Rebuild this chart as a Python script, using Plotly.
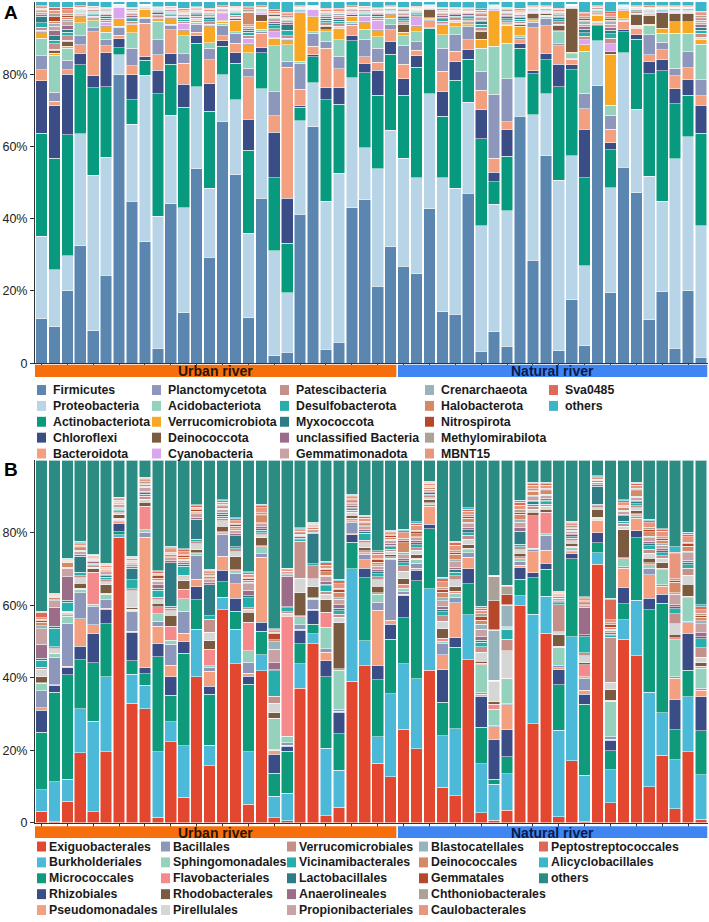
import plotly.graph_objects as go

W, H = 709, 922
FONT = "Liberation Sans, Arial, sans-serif"

urban_n, natural_n = 28, 24
samples = [f"U{i}" for i in range(1, urban_n + 1)] + [f"N{i}" for i in range(1, natural_n + 1)]

# ---------------- Panel A (phylum) ----------------
phyla = ["Firmicutes", "Proteobacteria", "Actinobacteriota", "Chloroflexi", "Bacteroidota",
         "Planctomycetota", "Acidobacteriota", "Verrucomicrobiota", "Deinococcota", "Cyanobacteria",
         "Patescibacteria", "Desulfobacterota", "Myxococcota", "unclassified Bacteria", "Gemmatimonadota",
         "Crenarchaeota", "Halobacterota", "Nitrospirota", "Methylomirabilota", "MBNT15",
         "Sva0485", "others"]
phyla_colors = ["#5b86b0", "#b8d5e8", "#079a7f", "#3a4d87", "#f3a081",
                "#8d97bb", "#94d2bd", "#f9a825", "#7b5b3f", "#dba6f0",
                "#c4908a", "#27aeaa", "#2e7c86", "#9c6d88", "#c9a2a6",
                "#97b3bb", "#d58a66", "#b5472a", "#aba197", "#e9967f",
                "#de6a55", "#3bb5c8"]

firmicutes = [12.4,10.1,20.0,32.5,9.0,24.3,80.4,44.9,34.1,4.1, 44.2,14.0,53.8,29.3,66.9,52.2,12.6,45.6,2.1,3.0,
              41.2,65.4,3.9,5.8,43.0,45.3,21.3,32.3,26.8,24.7, 42.8,14.3,13.5,47.0,3.3,8.7,4.7,68.3,28.8,57.5,
              3.5,17.7,4.9,78.5,19.5,54.3,47.2,12.0,19.8,4.2, 20.1,1.6]
proteobacteria = [22.9,15.8,9.7,31.0,43.0,32.7,5.5,21.3,46.7,36.6, 24.4,29.0,22.7,19.2,13.0,20.8,23.4,30.4,29.1,16.5,
                  25.9,12.2,41.0,46.8,36.0,14.3,32.5,32.2,30.0,26.6, 31.8,37.1,35.0,25.3,34.7,35.3,37.5,10.7,40.8,17.1,
                  47.1,40.2,22.1,12.8,29.1,31.6,23.1,39.7,25.1,52.4, 42.6,36.4]
actinobacteriota = [28.5,30.9,33.3,19.1,24.2,19.5,2.0,6.7,4.3,33.9, 14.2,27.8,12.1,21.3,7.8,10.1,22.9,10.0,20.1,13.7,
                    3.7,7.2,28.1,19.1,10.3,20.8,20.4,21.1,17.4,30.6, 18.1,16.9,29.9,11.9,24.2,6.3,15.1,8.2,11.4,9.4,
                    25.9,24.1,24.3,4.2,10.5,5.9,19.4,28.4,36.1,15.3, 11.5,25.6]
chloroflexi = [14.6,14.6,16.8,3.2,3.4,9.4,2.5,7.0,0.9,6.5, 2.9,6.4,2.0,7.6,1.6,2.9,8.7,1.4,12.6,12.4,
               0.6,0.6,3.2,4.5,1.3,2.7,6.9,3.5,4.5,3.2, 0.3,6.8,5.0,2.7,7.9,2.6,7.5,1.4,0.9,1.7,
               6.3,1.3,13.5,0.3,1.9,0.6,1.2,3.5,3.0,4.1, 4.3,7.8]
bacteroidota = [3.1,1.2,1.2,2.3,12.2,2.0,1.0,2.5,9.5,4.3, 6.6,5.9,1.0,6.6,1.3,2.6,11.7,4.0,4.6,36.3,
                4.4,2.3,11.0,5.3,3.0,1.8,2.2,3.2,4.0,1.6, 1.8,5.7,2.9,2.6,5.5,3.9,2.1,1.0,12.0,7.7,
                5.1,1.6,5.7,0.3,3.8,2.3,1.8,1.8,2.8,3.6, 3.4,2.7]
planctomycetota = [3.9,2.5,2.6,2.5,1.1,1.6,2.2,4.8,1.3,4.1, 1.1,2.6,2.3,3.2,3.0,2.7,2.4,0.5,6.6,1.7,
                   7.3,3.6,1.9,3.5,0.5,4.8,3.9,1.4,5.3,2.3, 0.3,6.4,4.6,3.7,5.2,17.6,11.9,0.5,1.5,2.1,
                   0.5,0.3,4.2,0.3,3.8,0.3,0.3,5.5,2.0,2.1, 4.4,4.4]
acidobacteriota = [4.8,10.3,3.4,3.7,1.9,2.1,0.3,4.3,0.3,5.1, 0.5,4.9,0.5,1.5,0.5,0.5,4.2,0.5,12.8,4.5,
                   0.5,0.5,2.7,4.5,0.5,2.7,3.2,1.8,2.6,2.7, 0.3,3.7,2.3,0.5,6.4,13.3,9.8,0.5,0.5,0.5,
                   3.4,1.3,11.6,0.3,2.8,0.3,0.3,2.7,2.6,9.7, 5.1,9.8]
verrucomicrobiota = [1.5,0.5,0.5,1.6,0.6,1.6,1.8,1.9,2.2,0.5, 1.5,1.4,0.5,4.5,0.5,3.2,2.2,2.3,2.1,1.2,
                     13.1,3.9,0.5,3.2,1.5,1.8,1.7,1.0,1.0,1.4, 0.3,2.5,1.2,0.5,2.5,9.6,5.0,2.7,0.5,0.3,
                     0.3,0.3,1.6,1.8,14.2,2.0,0.3,0.3,1.3,3.2, 3.2,1.4]
deinococcota = [0.5,0.8,1.4,0.3,0.3,0.4,0.3,0.3,0.3,0.3, 0.3,0.3,0.3,0.3,0.3,0.3,0.3,1.8,0.3,0.3,
                0.3,0.3,1.0,0.3,0.3,0.3,0.3,0.3,2.3,0.3, 2.3,0.3,0.3,0.3,2.1,0.3,0.3,0.5,1.5,0.5,
                1.4,12.3,0.3,0.3,0.7,0.3,3.0,2.3,4.3,2.3, 2.3,0.3]
cyanobacteria = [0.3,0.3,0.3,0.3,0.3,0.8,3.2,0.3,0.3,0.3, 0.3,1.8,0.3,0.3,1.8,0.5,1.6,0.3,1.4,0.3,
                 0.3,1.8,0.3,0.3,0.3,1.5,2.5,0.3,0.3,2.5, 0.3,0.3,0.3,0.3,0.3,0.3,0.3,0.3,0.3,0.3,
                 0.3,0.3,1.3,0.3,2.2,0.3,0.3,0.3,0.3,0.3, 0.3,0.3]
patescibacteria = [0.8,1.5,1.2,0.4,0.5,0.6,0.1,0.7,0.1,0.5, 0.5,0.6,0.5,0.7,0.4,0.5,0.8,0.4,0.9,0.8,
                   0.3,0.2,0.7,0.7,0.4,0.5,0.6,0.3,0.6,0.5, 0.2,0.7,0.6,0.6,0.9,0.2,0.6,0.6,0.3,0.3,
                   0.7,0.1,1.0,0.4,1.5,0.2,0.4,0.4,0.3,0.3, 0.3,1.0]
desulfobacterota = [1.2,1.0,1.0,0.3,0.4,0.5,0.1,0.6,0.1,0.4, 0.4,0.5,0.4,0.6,0.3,0.4,0.8,0.3,0.8,1.5,
                    0.2,0.2,0.6,0.6,0.3,0.4,0.5,0.3,0.6,0.4, 0.1,0.6,0.5,0.5,0.8,0.2,0.6,0.5,0.3,0.3,
                    0.6,0.1,1.0,0.3,1.2,0.2,0.3,0.3,0.2,0.3, 0.3,0.9]
myxococcota = [1.8,1.2,0.8,0.3,0.3,0.5,0.1,0.5,0.1,0.4, 0.3,0.5,0.4,0.5,0.2,0.4,0.6,0.2,0.7,1.5,
               0.2,0.1,0.6,0.6,0.2,0.3,0.4,0.2,0.5,0.3, 0.1,0.5,0.4,0.4,0.7,0.1,0.5,0.5,0.2,0.2,
               0.5,0.1,0.9,0.2,1.0,0.1,0.2,0.3,0.2,0.2, 0.2,0.8]
unclassified_bacteria = [0.5,1.5,1.0,0.2,0.3,0.4,0.1,0.4,0.1,0.3, 0.3,0.4,0.3,0.4,0.2,0.3,0.5,0.2,0.6,0.5,
                         0.1,0.1,0.5,0.5,0.2,0.3,0.3,0.2,0.4,0.3, 0.1,0.4,0.3,0.4,0.5,0.1,0.4,0.4,0.2,0.2,
                         0.4,0.1,0.7,0.2,0.8,0.1,0.2,0.2,0.1,0.2, 0.2,0.7]
gemmatimonadota = [0.6,1.2,1.0,0.3,0.3,0.5,0.1,0.5,0.1,0.3, 0.3,0.5,0.4,0.5,0.3,0.3,0.6,0.3,0.6,0.6,
                   0.2,0.2,0.5,0.6,0.3,0.3,0.4,0.2,0.5,0.3, 0.1,0.5,0.4,0.4,0.6,0.2,0.5,0.5,0.2,0.2,
                   0.5,0.1,0.8,0.3,0.9,0.2,0.3,0.3,0.2,0.2, 0.2,0.7]
crenarchaeota = [0.4,0.8,0.8,0.2,0.2,0.3,0.1,0.3,0.1,0.2, 0.2,0.3,0.2,0.3,0.2,0.2,0.4,0.1,0.5,0.4,
                 0.1,0.1,0.3,0.4,0.2,0.2,0.3,0.1,0.3,0.2, 0.1,0.3,0.3,0.3,0.5,0.1,0.3,0.3,0.1,0.1,
                 0.3,0.1,0.6,0.1,0.6,0.1,0.1,0.2,0.1,0.1, 0.1,0.6]
halobacterota = [0.3,0.6,0.5,0.1,0.1,0.2,0.0,0.2,0.0,0.1, 0.1,0.2,0.1,0.2,0.1,0.1,3.5,0.1,0.3,0.3,
                 0.1,0.1,0.2,0.2,0.1,0.1,0.1,0.1,0.2,0.1, 0.0,0.2,0.1,0.1,0.3,0.1,0.2,0.2,0.1,0.1,
                 0.2,0.0,0.4,0.1,0.4,0.1,0.1,0.1,0.1,0.1, 0.1,0.4]
nitrospirota = [0.2,1.2,0.5,0.1,0.1,0.2,0.0,0.2,0.0,0.1, 0.1,0.2,0.1,0.2,0.1,0.1,0.3,0.1,0.3,0.3,
                0.1,0.0,0.2,0.2,0.1,0.1,0.1,0.1,0.2,0.1, 0.0,0.2,0.1,0.1,0.3,0.0,0.2,0.2,0.1,0.1,
                0.2,0.0,0.4,0.1,0.4,0.0,0.1,0.1,0.1,0.1, 0.1,0.4]
methylomirabilota = [0.3,0.8,0.6,0.2,0.2,0.3,0.1,0.3,0.1,0.2, 0.2,0.3,0.2,0.3,0.1,0.2,0.4,0.1,0.5,0.4,
                     0.1,0.1,0.3,0.3,0.1,0.2,0.2,0.1,0.3,0.2, 0.1,0.3,0.2,0.2,0.4,0.1,0.3,0.3,0.1,0.1,
                     0.3,0.1,0.6,0.1,0.6,0.1,0.1,0.2,0.1,0.1, 0.1,0.5]
mbnt15 = [0.4,1.0,1.0,0.3,0.3,0.4,0.1,0.5,0.1,0.3, 0.3,0.5,0.4,0.5,0.3,0.3,0.5,0.3,0.6,0.6,
          0.2,0.1,0.5,0.5,0.3,0.3,0.4,0.2,0.5,0.3, 0.1,0.5,0.4,0.4,0.6,0.1,0.5,0.5,0.2,0.2,
          0.5,0.1,0.8,0.2,0.9,0.1,0.2,0.3,0.2,0.2, 0.2,0.7]
sva0485 = [0.3,0.8,0.6,0.1,0.1,0.2,0.0,0.3,0.0,0.2, 0.1,0.2,0.2,0.3,0.1,0.2,0.3,0.1,0.4,0.4,
           0.1,0.1,0.3,0.3,0.1,0.1,0.2,0.1,0.2,0.2, 0.0,0.3,0.2,0.2,0.4,0.1,0.2,0.2,0.1,0.1,
           0.3,0.0,0.5,0.1,0.5,0.1,0.1,0.1,0.1,0.1, 0.1,0.5]
others_a = [1.0,1.5,1.5,1.0,1.2,1.5,0.6,1.5,0.7,1.3, 1.2,1.7,1.3,1.7,1.0,1.2,1.3,1.0,2.1,2.8,
            1.0,0.9,1.7,1.8,1.0,1.2,1.6,1.0,1.5,1.2, 0.8,1.5,1.5,1.6,1.9,0.8,1.5,1.7,1.0,1.0,
            1.7,0.7,2.8,1.0,2.7,0.8,1.0,1.0,1.0,1.0, 1.0,2.5]

phyla_values = [firmicutes, proteobacteria, actinobacteriota, chloroflexi, bacteroidota,
                planctomycetota, acidobacteriota, verrucomicrobiota, deinococcota, cyanobacteria,
                patescibacteria, desulfobacterota, myxococcota, unclassified_bacteria, gemmatimonadota,
                crenarchaeota, halobacterota, nitrospirota, methylomirabilota, mbnt15,
                sva0485, others_a]

# ---------------- Panel B (order) ----------------
orders = ["Exiguobacterales", "Burkholderiales", "Micrococcales", "Rhizobiales", "Pseudomonadales",
          "Bacillales", "Sphingomonadales", "Flavobacteriales", "Rhodobacterales", "Pirellulales",
          "Verrucomicrobiales", "Vicinamibacterales", "Lactobacillales", "Anaerolineales", "Propionibacteriales",
          "Blastocatellales", "Deinococcales", "Gemmatales", "Chthoniobacterales", "Caulobacterales",
          "Peptostreptococcales", "Alicyclobacillales", "others"]
order_colors = ["#e4472f", "#4cb9d8", "#0f9a7c", "#3a4d87", "#f3a081",
                "#8d97bb", "#94d2bd", "#f48a8c", "#7b5b3f", "#d6d6d6",
                "#c4908a", "#27aeaa", "#2e7c86", "#9c6d88", "#c9a2a6",
                "#97b3bb", "#d58a66", "#b5472a", "#aba197", "#e9967f",
                "#de6a55", "#3bb5c8", "#2b8c84"]

exiguobacterales = [3.2,0.3,5.9,19.5,3.0,19.7,79.5,32.9,31.3,1.5, 22.2,7.1,40.7,15.7,59.6,43.7,5.1,42.0,1.4,0.5,
                    37.7,50.0,1.9,4.2,39.1,43.7,16.3,12.8,25.7,20.6, 42.1,9.6,7.4,45.0,2.8,0.7,3.5,60.3,27.4,52.5,
                    1.6,17.4,0.2,72.4,5.5,51.9,46.4,9.9,18.8,3.9, 19.6,1.0]
burkholderiales = [5.9,11.1,6.1,12.3,25.1,20.8,0.7,8.0,6.4,18.0, 5.5,14.2,13.2,5.6,3.4,9.5,14.4,4.4,5.9,7.7,
                   6.9,2.8,18.5,10.2,31.0,7.1,7.3,23.1,18.1,19.6, 22.6,14.0,18.4,12.4,13.5,10.1,10.0,2.7,30.4,10.3,
                   24.2,34.9,13.1,3.2,8.9,5.5,15.5,26.0,11.8,13.9, 15.1,12.1]
micrococcales = [16.0,24.9,28.9,13.7,16.2,14.6,0.7,3.7,3.2,26.0, 7.3,25.5,8.3,14.0,4.4,4.9,18.5,6.4,6.4,11.7,
                 5.6,2.7,19.6,10.1,7.3,17.5,15.7,15.3,12.6,27.2, 16.6,9.1,22.4,8.6,10.2,1.3,4.8,4.6,10.1,7.5,
                 12.6,21.9,19.8,2.9,5.3,4.5,17.4,22.8,30.4,8.5, 7.3,12.1]
rhizobiales = [6.0,1.9,2.0,3.8,8.0,4.1,2.5,7.9,1.6,3.6, 5.0,3.2,3.6,2.2,3.2,3.5,2.2,2.5,5.3,1.4,
               3.7,3.9,4.4,5.9,2.1,2.6,3.9,4.1,6.0,3.0, 1.2,8.9,2.6,4.1,8.5,11.0,7.5,3.4,1.5,1.7,
               4.3,1.4,2.7,2.8,2.8,4.6,2.0,3.2,2.5,8.7, 10.3,9.3]
pseudomonadales = [0.7,0.2,0.4,7.6,2.5,0.3,0.3,0.3,35.9,4.8, 3.2,2.3,2.1,4.1,3.9,4.0,0.9,18.0,1.1,0.3,
                   0.3,0.3,2.4,0.3,0.3,2.4,15.1,1.2,0.5,0.5, 5.0,4.1,9.5,3.2,0.5,3.7,6.9,0.5,5.8,3.6,
                   0.5,0.5,1.2,3.4,0.3,5.5,3.4,6.4,2.1,5.9, 2.8,1.8]
bacillales = [4.7,7.7,11.9,7.3,5.1,2.3,0.4,5.5,1.3,1.4, 5.8,6.1,6.6,1.1,6.1,2.9,3.0,0.9,0.3,0.6,
              1.2,2.7,0.9,0.6,3.0,1.5,2.2,16.8,0.6,1.5, 0.3,3.0,1.5,1.2,0.5,0.3,0.3,1.0,0.5,4.1,
              0.5,0.5,3.2,0.3,0.6,0.4,0.5,1.8,0.5,0.4, 0.5,0.5]
sphingomonadales = [2.1,0.9,1.9,0.9,0.6,1.5,0.4,0.3,0.7,2.1, 1.1,3.5,0.5,0.4,0.5,0.7,3.2,2.0,8.5,1.8,
                    2.3,0.3,6.0,10.8,0.5,0.5,2.3,0.5,1.0,1.0, 0.4,0.6,1.2,0.8,7.7,4.5,6.8,0.8,0.5,0.5,
                    5.2,0.8,0.5,0.3,9.8,2.3,0.5,1.0,4.1,10.5, 6.4,5.5]
flavobacteriales = [0.2,0.2,0.2,0.3,8.9,0.3,0.2,0.2,6.4,1.8, 3.8,2.6,0.3,4.6,0.3,0.3,7.8,0.3,0.2,33.4,
                    0.3,0.2,4.1,0.3,0.8,0.5,0.3,0.3,1.2,0.3, 0.2,0.8,0.5,0.5,0.5,1.5,0.2,0.5,9.0,6.0,
                    0.3,0.3,3.4,0.3,0.3,0.3,0.3,0.5,0.5,0.5, 0.5,0.5]
rhodobacterales = [1.6,0.3,0.3,1.5,0.9,2.4,1.0,0.4,1.2,1.0, 3.0,2.4,0.8,2.3,1.5,3.5,2.7,2.2,1.5,0.3,
                   6.5,3.0,3.4,12.8,0.8,0.8,1.9,0.6,1.5,1.0, 0.8,2.7,1.2,1.0,0.5,0.7,0.3,1.0,1.0,0.8,
                   3.2,0.8,0.5,2.2,2.8,7.9,0.8,1.2,1.5,1.0, 3.2,1.0]
pirellulales = [2.1,1.0,0.6,1.5,0.5,0.8,0.5,4.7,0.8,1.0, 1.3,1.0,1.7,2.3,1.5,1.4,0.8,0.8,2.6,0.5,
                4.0,2.3,1.5,1.5,0.8,1.5,1.8,1.0,2.0,1.2, 0.6,2.0,2.0,1.5,2.5,5.5,7.3,1.0,0.8,0.8,
                0.8,0.8,2.0,0.5,2.0,1.0,0.8,1.5,1.2,3.0, 2.5,1.5]
verrucomicrobiales = [0.5,0.5,0.3,0.5,0.4,0.6,0.6,0.5,0.8,0.6, 0.6,0.5,0.5,3.6,0.8,0.8,0.5,0.6,2.0,0.4,
                      10.3,3.6,0.8,0.8,0.5,0.6,0.8,0.6,1.5,0.8, 0.5,1.5,1.0,1.0,1.5,0.1,3.2,0.8,0.8,0.6,
                      7.6,0.6,0.8,0.5,12.3,0.8,0.6,1.0,0.8,2.8, 2.0,2.5]
vicinamibacterales = [2.0,5.2,2.5,1.0,0.4,0.6,0.4,2.5,0.5,2.0, 0.6,2.5,0.8,1.0,0.5,0.6,2.7,0.6,7.1,1.1,
                      0.5,0.5,1.5,1.0,0.5,2.0,0.8,0.6,0.8,0.8, 0.5,1.0,1.0,0.8,1.2,0.1,2.8,0.8,0.6,0.6,
                      0.5,0.5,4.5,0.5,0.5,0.6,0.6,1.0,0.8,1.5, 1.0,2.5]
lactobacillales = [0.5,0.5,0.5,4.5,0.3,0.4,0.3,3.2,0.5,0.5, 11.9,0.5,5.5,8.5,0.6,3.0,0.5,0.5,0.3,0.3,
                   0.4,8.5,0.5,0.6,0.4,0.5,0.5,0.5,0.6,0.6, 0.4,0.8,0.8,0.8,0.6,0.1,0.2,3.5,0.6,0.5,
                   0.3,0.5,0.5,5.0,0.4,1.5,0.5,0.6,0.5,0.5, 0.6,0.6]
anaerolineales = [3.9,5.3,6.5,0.5,0.3,0.5,0.3,0.4,0.4,1.0, 0.6,0.5,0.5,0.6,0.5,0.6,1.5,0.5,1.9,8.5,
                  0.4,0.4,0.6,1.0,0.4,0.5,0.6,0.5,0.6,0.6, 0.3,0.8,0.6,0.6,1.0,0.1,0.2,1.0,0.5,0.5,
                  0.3,0.4,7.7,0.4,0.4,0.5,0.5,0.6,0.6,0.6, 0.6,1.0]
propionibacteriales = [4.3,1.8,2.4,0.8,0.5,0.6,0.8,0.6,1.0,1.0, 0.8,0.6,1.0,0.8,0.8,1.0,1.9,0.8,3.8,0.5,
                       0.5,0.6,1.5,1.5,0.6,0.8,1.0,0.8,1.0,0.8, 0.5,1.5,1.5,1.0,2.0,0.1,0.3,1.5,1.0,0.8,
                       0.5,0.6,0.5,0.5,0.6,0.8,0.8,1.0,1.0,3.0, 2.0,2.5]
blastocatellales = [0.8,0.3,0.3,0.3,0.2,0.3,0.2,0.2,0.3,0.3, 0.3,0.3,0.3,0.3,0.3,0.3,0.3,0.3,2.1,0.2,
                    0.2,0.2,0.3,0.4,0.2,0.3,0.3,0.3,0.8,0.3, 0.2,0.8,0.5,0.4,1.5,13.9,5.9,0.8,0.4,0.3,
                    0.2,0.3,0.3,0.2,0.3,0.3,0.3,0.4,0.4,0.4, 0.4,0.8]
deinococcales = [1.0,0.5,1.2,0.8,0.3,0.5,0.4,0.5,0.6,0.5, 0.6,0.5,0.5,0.6,0.5,0.8,0.6,2.0,0.5,0.3,
                 0.4,0.5,1.0,1.5,0.6,0.6,0.8,0.6,2.5,0.8, 0.5,1.5,1.5,1.2,1.0,0.1,0.2,1.5,1.0,1.0,
                 0.5,0.6,0.5,0.5,0.6,0.8,1.5,1.2,1.0,3.0, 1.5,1.0]
gemmatales = [0.5,0.2,0.2,0.3,0.2,0.2,0.3,0.3,0.3,0.6, 0.3,0.5,0.3,0.4,0.3,0.4,0.5,0.4,1.8,0.2,
              0.3,0.3,0.6,0.8,0.3,0.4,0.6,0.4,0.8,0.5, 0.3,0.8,0.6,0.5,1.0,8.2,2.7,0.5,0.4,0.4,
              0.2,0.3,0.3,0.2,0.8,0.3,0.4,0.8,0.5,0.5, 0.6,0.6]
chthoniobacterales = [0.3,0.3,0.2,0.3,0.2,0.3,0.2,0.2,0.3,0.3, 0.3,0.3,0.3,0.3,0.3,0.3,0.3,0.3,0.3,0.2,
                      0.2,0.2,0.3,0.4,0.2,0.3,0.3,0.3,0.5,0.4, 0.2,0.5,0.4,0.4,0.8,6.7,2.3,0.8,0.3,0.3,
                      0.2,0.3,0.3,0.2,0.4,0.3,0.3,0.5,0.4,0.5, 0.4,0.5]
caulobacterales = [0.5,0.3,0.3,0.5,0.3,0.5,0.4,0.5,0.6,0.5, 1.0,0.8,0.5,0.6,0.6,0.8,0.8,1.5,0.4,0.4,
                   0.4,0.4,0.8,1.2,0.6,0.8,1.2,0.6,1.5,1.5, 0.6,1.5,1.5,1.0,1.0,0.1,0.2,1.2,1.0,0.8,
                   0.5,0.6,0.5,0.4,0.8,0.8,0.8,1.2,1.5,7.0, 1.5,1.0]
peptostreptococcales = [1.5,0.3,0.3,0.3,0.2,0.3,0.3,0.3,0.4,0.3, 0.3,0.5,0.4,0.4,0.4,0.5,0.4,0.5,0.3,0.3,
                        0.3,0.3,0.8,0.8,0.4,0.5,0.6,0.4,0.6,0.5, 0.3,0.8,0.8,0.6,0.6,0.1,0.1,0.8,0.5,0.5,
                        0.3,0.4,0.3,0.3,5.5,0.5,0.5,0.6,0.5,0.5, 0.8,0.8]
alicyclobacillales = [0.3,0.2,0.2,0.3,0.2,0.3,0.2,0.3,0.3,0.3, 0.4,0.3,0.3,0.3,0.3,0.3,0.3,0.4,0.3,0.2,
                      0.2,0.2,0.4,0.4,0.3,0.3,0.4,0.3,0.4,0.4, 0.3,0.5,0.4,0.4,0.5,0.1,0.1,0.5,0.3,0.3,
                      0.2,0.3,0.2,0.2,0.4,0.3,0.3,0.4,0.3,1.5, 0.5,0.5]
others_b = [41.7,37.0,27.1,22.6,26.0,28.5,10.2,26.4,4.6,30.3, 23.5,24.4,12.3,29.9,11.0,15.7,30.6,12.1,46.8,29.9,
            18.9,17.3,27.6,32.8,9.3,15.3,24.8,19.4,18.9,17.1, 5.7,31.7,22.1,13.0,40.4,32.1,34.5,11.1,6.1,6.1,
            36.5,17.1,38.1,4.3,37.6,11.1,6.1,16.2,18.9,24.4, 19.8,39.5]

order_values = [exiguobacterales, burkholderiales, micrococcales, rhizobiales, pseudomonadales,
                bacillales, sphingomonadales, flavobacteriales, rhodobacterales, pirellulales,
                verrucomicrobiales, vicinamibacterales, lactobacillales, anaerolineales, propionibacteriales,
                blastocatellales, deinococcales, gemmatales, chthoniobacterales, caulobacterales,
                peptostreptococcales, alicyclobacillales, others_b]

group_names = ["Urban river", "Natural river"]
group_colors = ["#f76f0c", "#3f86f2"]
group_text_colors = ["#2a1600", "#0b1a4a"]
y_ticks = [0, 20, 40, 60, 80]
y_ticktext = ["0", "20%", "40%", "60%", "80%"]

fig = go.Figure()

for name, col, vals in zip(phyla, phyla_colors, phyla_values):
    fig.add_trace(go.Bar(x=samples, y=vals, name=name, marker=dict(color=col, line=dict(color="white", width=0.5)),
                         xaxis="x", yaxis="y", showlegend=False))
for name, col, vals in zip(orders, order_colors, order_values):
    fig.add_trace(go.Bar(x=samples, y=vals, name=name, marker=dict(color=col, line=dict(color="white", width=0.5)),
                         xaxis="x2", yaxis="y2", showlegend=False))


def px_x(v):
    return v / W


def px_y(v):
    return 1 - v / H


x_dom = [px_x(35), px_x(707.5)]
panels = {"A": dict(band=(367.5, 380), leg_rows=393, leg_cols=[37, 152, 280, 425, 549], text_off=15),
          "B": dict(band=(832.5, 844.5), leg_rows=853, leg_cols=[37, 161, 287, 419, 539], text_off=11)}

axis_common = dict(showgrid=False, zeroline=False, showline=True, linecolor="#333", linewidth=1,
                   ticks="outside", ticklen=4, tickcolor="#333", tickwidth=1)

fig.update_layout(
    width=W, height=H, margin=dict(l=0, r=0, t=0, b=0),
    paper_bgcolor="white", plot_bgcolor="white",
    barmode="stack", barnorm="percent", bargap=0.1,
    font=dict(family=FONT, size=13, color="#1a1a1a"),
    xaxis=dict(domain=x_dom, anchor="y", range=[-0.5, 51.5], showticklabels=False, **axis_common),
    yaxis=dict(domain=[px_y(366), px_y(2)], anchor="x", range=[0, 100], tickvals=y_ticks, ticktext=y_ticktext,
               tickfont=dict(size=12.5, color="#222"), **axis_common),
    xaxis2=dict(domain=x_dom, anchor="y2", range=[-0.5, 51.5], showticklabels=False, **axis_common),
    yaxis2=dict(domain=[px_y(829), px_y(464)], anchor="x2", range=[0, 100], tickvals=y_ticks, ticktext=y_ticktext,
                tickfont=dict(size=12.5, color="#222"), **axis_common),
)

shapes = []
annotations = []
for key, xref, names, cols in [("A", "x", phyla, phyla_colors), ("B", "x2", orders, order_colors)]:
    p = panels[key]
    b0, b1 = p["band"]
    spans = [(-0.5, urban_n - 0.5 - 0.06), (urban_n - 0.5 + 0.06, urban_n + natural_n - 0.5)]
    for (x0, x1), gc, gname, tc in zip(spans, group_colors, group_names, group_text_colors):
        shapes.append(dict(type="rect", xref=xref, yref="paper", x0=x0, x1=x1, y0=px_y(b1), y1=px_y(b0),
                           fillcolor=gc, line=dict(width=0), layer="above"))
        annotations.append(dict(xref=xref, yref="paper", x=(x0 + x1) / 2, y=px_y((b0 + b1) / 2 + 0.5),
                                text=f"<b>{gname}</b>", showarrow=False, font=dict(size=14, color=tc),
                                xanchor="center", yanchor="middle", borderpad=0))
    for i, (nm, cl) in enumerate(zip(names, cols)):
        c, r = divmod(i, 5)
        mx = p["leg_cols"][c]
        my = p["leg_rows"] + 16 * r
        shapes.append(dict(type="rect", xref="paper", yref="paper", x0=px_x(mx), x1=px_x(mx + 9),
                           y0=px_y(my + 5), y1=px_y(my - 5), fillcolor=cl, line=dict(width=0)))
        annotations.append(dict(xref="paper", yref="paper", x=px_x(mx + p["text_off"]), y=px_y(my),
                                text=f"<b>{nm}</b>", showarrow=False, xanchor="left", yanchor="middle",
                                borderpad=0, font=dict(size=12.3, color="#1a1a1a")))

annotations.append(dict(xref="paper", yref="paper", x=px_x(2), y=px_y(13), text="<b>A</b>", showarrow=False,
                        xanchor="left", yanchor="middle", font=dict(size=19, color="#000")))
annotations.append(dict(xref="paper", yref="paper", x=px_x(2), y=px_y(473), text="<b>B</b>", showarrow=False,
                        xanchor="left", yanchor="middle", font=dict(size=19, color="#000")))

fig.update_layout(shapes=shapes, annotations=annotations)
fig.write_html("out.html")
